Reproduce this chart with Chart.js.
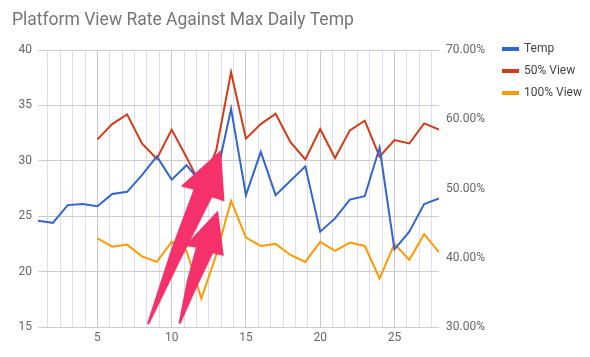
<!DOCTYPE html>
<html>
<head>
<meta charset="utf-8">
<style>
html,body{margin:0;padding:0;background:#fff;}
#wrap{width:590px;height:357px;position:relative;}
</style>
<script src="https://cdn.jsdelivr.net/npm/chart.js@4/dist/chart.umd.min.js"></script>
</head>
<body>
<div id="wrap"><canvas id="c" width="590" height="357"></canvas></div>
<script>
// ---- data ----
const days = [1,2,3,4,5,6,7,8,9,10,11,12,13,14,15,16,17,18,19,20,21,22,23,24,25,26,27,28];
const temp = [24.6,24.4,26.0,26.1,25.9,27.0,27.2,28.7,30.4,28.3,29.6,28.0,28.5,34.7,26.9,30.8,26.9,28.2,29.5,23.6,24.8,26.5,26.8,31.2,22.0,23.6,26.1,26.6];
const view50 = [null,null,null,null,57.1,59.3,60.7,56.5,54.3,58.5,54.5,50.3,55.5,66.8,57.2,59.3,60.8,56.7,54.2,58.6,54.4,58.4,59.8,54.6,57.0,56.5,59.4,58.5];
const view100 = [null,null,null,null,42.8,41.6,41.9,40.2,39.4,42.3,41.0,34.1,40.4,48.2,42.9,41.7,42.0,40.4,39.4,42.3,41.0,42.2,41.7,37.0,42.0,39.7,43.4,40.8];
const seriesNames = ['Temp','50% View','100% View'];
const titleText = 'Platform View Rate Against Max Daily Temp';

// annotation arrows (in data units of x / left y axis)
const arrows = [
  {from:[8.41,15.27], to:[13.32,30.97], head:47, headHalf:23, shaftHalf:10},
  {from:[10.53,15.32], to:[13.12,25.51], head:42, headHalf:20, shaftHalf:9}
];

const colors = ['#3366cc','#d53a16','#ff9900'];
const FONT = 'Roboto';
const isMajor = v => Math.abs(v/5 - Math.round(v/5)) < 1e-6;

const arrowPlugin = {
  id: 'arrows',
  afterDatasetsDraw(chart) {
    const {ctx, scales} = chart;
    const sx = scales.x, sy = scales.y;
    ctx.save();
    ctx.fillStyle = '#f5316b';
    ctx.shadowColor = 'rgba(0,0,0,0.18)';
    ctx.shadowBlur = 2;
    ctx.shadowOffsetY = 1;
    for (const a of arrows) {
      const x0 = sx.getPixelForValue(a.from[0]), y0 = sy.getPixelForValue(a.from[1]);
      const x1 = sx.getPixelForValue(a.to[0]), y1 = sy.getPixelForValue(a.to[1]);
      const dx = x1 - x0, dy = y1 - y0, L = Math.hypot(dx, dy);
      const ux = dx / L, uy = dy / L, px = -uy, py = ux;
      const pt = (al, pe) => [x0 + ux*al + px*pe, y0 + uy*al + py*pe];
      const b = L - a.head;
      const poly = [pt(0,-1), pt(b*0.55,-a.shaftHalf*0.75), pt(b,-a.shaftHalf), pt(b-2,-a.headHalf), pt(L,0),
                    pt(b+1,a.headHalf), pt(b,a.shaftHalf), pt(b*0.5,a.shaftHalf*0.5), pt(0,1)];
      ctx.beginPath();
      ctx.moveTo(poly[0][0], poly[0][1]);
      for (let i = 1; i < poly.length; i++) ctx.lineTo(poly[i][0], poly[i][1]);
      ctx.closePath();
      ctx.fill();
    }
    ctx.restore();
  }
};

const mk = (arr) => days.map((d, i) => ({x: d, y: arr[i]}));

new Chart(document.getElementById('c'), {
  type: 'line',
  data: {
    datasets: [
      {label: seriesNames[0], data: mk(temp), yAxisID: 'y', borderColor: colors[0], backgroundColor: colors[0]},
      {label: seriesNames[1], data: mk(view50), yAxisID: 'y1', borderColor: colors[1], backgroundColor: colors[1]},
      {label: seriesNames[2], data: mk(view100), yAxisID: 'y1', borderColor: colors[2], backgroundColor: colors[2]}
    ]
  },
  options: {
    responsive: false,
    animation: false,
    devicePixelRatio: 1,
    elements: {
      line: {borderWidth: 2, tension: 0},
      point: {radius: 0, hoverRadius: 0}
    },
    layout: {padding: {left: 12, right: 0, top: 0, bottom: 0}},
    scales: {
      x: {
        type: 'linear', min: 1, max: 28,
        afterBuildTicks(scale) {
          const t = [];
          for (let k = 2; k * 5 / 6 < 28; k++) t.push({value: Math.round(k * 5 / 6 * 1e6) / 1e6});
          scale.ticks = t;
        },
        afterFit(scale) { scale.height = 30; },
        ticks: {
          autoSkip: false, maxRotation: 0, padding: 4, color: '#666',
          font: {family: FONT, size: 12},
          callback: v => isMajor(v) ? String(Math.round(v)) : ''
        },
        grid: {
          color: ctx => (ctx.tick && isMajor(ctx.tick.value)) ? '#c8c8c8' : '#dddcf0',
          drawTicks: false, lineWidth: 1
        },
        border: {display: false}
      },
      y: {
        position: 'left', min: 15, max: 40,
        afterFit(scale) { scale.width = 26; },
        ticks: {stepSize: 5, padding: 6, color: '#666', font: {family: FONT, size: 12}},
        grid: {color: '#cccccc', drawTicks: false},
        border: {display: false}
      },
      y1: {
        position: 'right', min: 30, max: 70,
        afterFit(scale) { scale.width = 54; },
        ticks: {stepSize: 10, padding: 7, color: '#666', font: {family: FONT, size: 12},
                callback: v => v.toFixed(2) + '%'},
        grid: {display: false, drawTicks: false},
        border: {display: false}
      }
    },
    plugins: {
      title: {
        display: true, text: titleText, align: 'start', color: '#757575',
        font: {family: FONT, size: 17.5, weight: 'normal'},
        padding: {top: 10, bottom: 19}
      },
      legend: {
        position: 'right', align: 'start', maxWidth: 97,
        title: {display: true, text: '', font: {size: 10}, padding: {top: 0, bottom: 21}},
        labels: {boxWidth: 15, boxHeight: 2, padding: 10, color: '#444', font: {family: FONT, size: 12}}
      },
      tooltip: {enabled: false}
    }
  },
  plugins: [arrowPlugin]
});
</script>
</body>
</html>
